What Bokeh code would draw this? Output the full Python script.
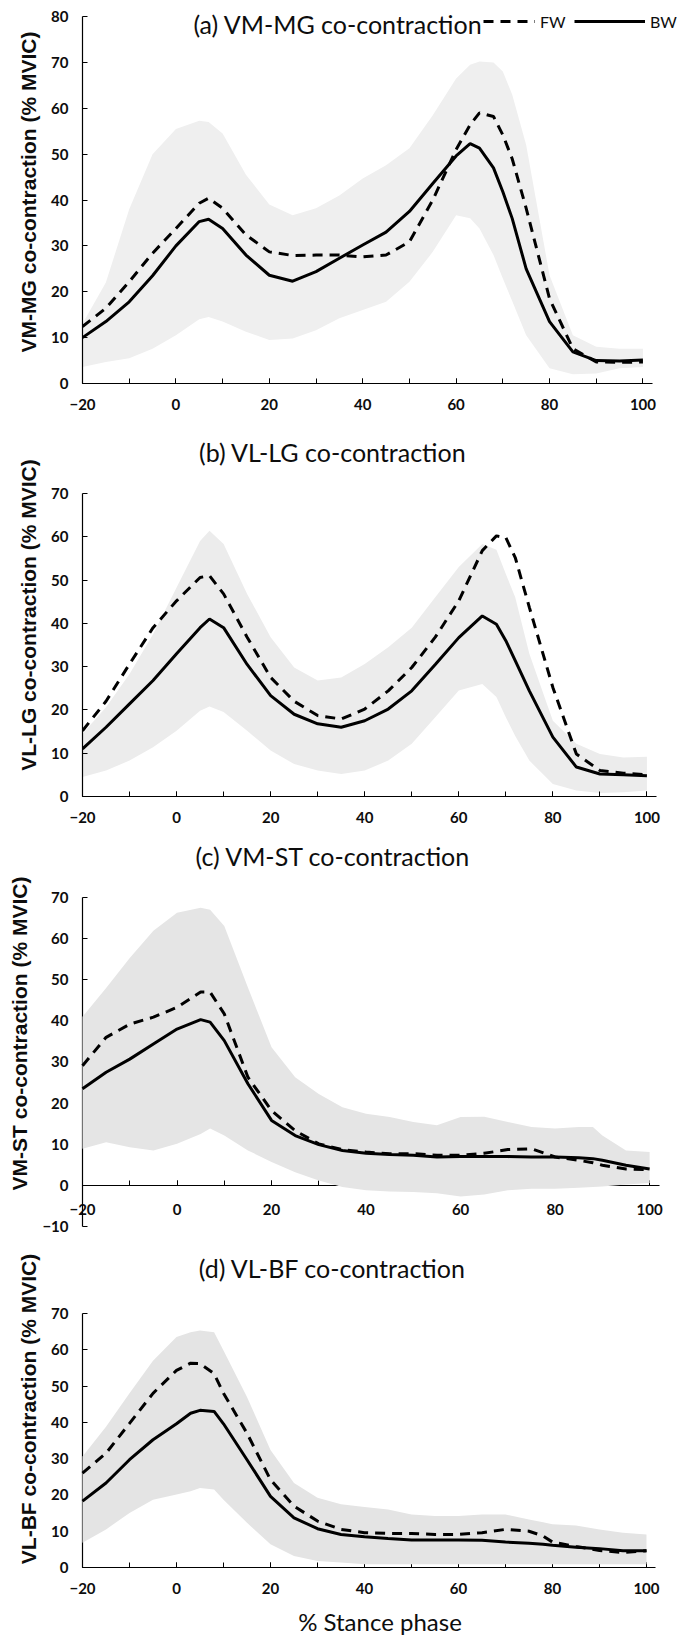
from bokeh.plotting import figure
from bokeh.layouts import column
from bokeh.models import Range1d, SingleIntervalTicker, Legend, LegendItem, Label, LinearAxis
from bokeh.embed import file_html
from bokeh.resources import INLINE

# ---------------- data ----------------
# (a) VM-MG
a_x = [-20, -15, -10, -5, 0, 5, 7, 10, 15, 20, 25, 30, 35, 40, 45, 50, 55, 60, 63, 65, 68, 70, 72, 75, 80, 85, 90, 95, 100]
a_bw = [10, 13.5, 17.8, 23.5, 30, 35.3, 35.8, 33.8, 28, 23.6, 22.3, 24.4, 27.3, 30.2, 33, 37.5, 43.6, 49.6, 52.3, 51.3, 47, 41.8, 36, 25, 13.5, 6.9, 5, 4.9, 5.1]
a_fw = [12.4, 16.4, 22.2, 28.4, 33.8, 39.3, 40.4, 38.2, 32.4, 28.7, 27.9, 28, 28, 27.6, 28, 30.9, 40, 51, 56.4, 59, 58.2, 54.2, 49, 38.2, 18.5, 7.6, 4.7, 4.6, 4.7]
a_up = [13, 22, 38, 50, 55.5, 57.3, 57, 54.5, 45.5, 39, 36.7, 38.2, 41, 44.7, 47.6, 51.3, 58.5, 66.5, 69.5, 70.2, 70, 68, 63, 52, 23.6, 10.5, 8, 7.6, 7.6]
a_lo = [3.6, 4.7, 5.5, 7.6, 10.5, 14, 14.5, 13.5, 11.3, 9.5, 9.8, 11.6, 14.2, 16, 17.8, 22.2, 28.7, 36.7, 36, 33.8, 28, 22.9, 18, 10.5, 3.3, 2, 2.2, 3.3, 3.6]

# (b) VL-LG
b_x = [-20, -15, -10, -5, 0, 5, 7, 10, 15, 20, 25, 30, 35, 40, 45, 50, 55, 60, 65, 68, 70, 72, 75, 80, 85, 90, 95, 100]
b_bw = [11, 16, 21.4, 26.8, 33, 39, 41, 39, 30.5, 23.3, 19, 16.8, 16, 17.5, 20.2, 24.4, 30.5, 36.7, 41.7, 39.8, 36, 31.4, 24.4, 13.7, 6.8, 5.2, 5, 4.8]
b_fw = [15.2, 22, 30.6, 39, 45.2, 50.6, 51, 46.8, 36.8, 27.5, 22, 18.7, 17.9, 20.2, 24.4, 29.8, 36.8, 45.2, 56.8, 60.2, 59.8, 55.2, 43.7, 25.2, 9.8, 6, 5.4, 5]
b_up = [14.5, 20.6, 28.3, 37.5, 48.3, 59, 61.4, 58.3, 46.8, 36.8, 29.8, 26.8, 27.5, 30.6, 34.5, 39, 46, 53, 58.3, 57, 51.4, 46, 33, 17.5, 12.2, 9.8, 9, 9.2]
b_lo = [4.5, 6, 8.3, 11.4, 15.2, 19.8, 20.8, 19.5, 15.2, 10.6, 7.5, 6, 5.2, 6, 8.3, 12.2, 18.3, 24.5, 26, 23, 18.3, 14, 8.3, 2.9, 1.4, 0.8, 1, 1.4]

# (c) VM-ST
c_x = [-20, -15, -10, -5, 0, 5, 7, 10, 15, 20, 25, 30, 35, 40, 45, 50, 55, 60, 65, 70, 75, 80, 85, 88, 90, 95, 100]
c_bw = [23.5, 27.5, 30.7, 34.4, 38, 40.3, 39.7, 35.2, 24.7, 15.8, 12.1, 9.9, 8.5, 7.8, 7.5, 7.3, 6.9, 7, 7, 7, 6.9, 6.9, 6.7, 6.5, 6.1, 4.9, 4]
c_fw = [29.1, 36, 39.2, 40.9, 43.3, 47, 47, 41.7, 26.3, 18.2, 13.3, 10.1, 8.7, 8.1, 7.7, 7.7, 7.3, 7.3, 7.8, 8.7, 8.9, 6.9, 6.1, 5.5, 4.9, 4, 3.8]
c_up = [41, 48, 55.3, 61.9, 66.3, 67.5, 67, 63.1, 48.1, 33.6, 26.3, 22.2, 19, 17.4, 16.6, 15.4, 14.6, 16.6, 16.7, 15.4, 14.2, 13.8, 14.2, 14.2, 12.1, 8.5, 8.1]
c_lo = [8.9, 10.5, 9.3, 8.5, 10.1, 12.5, 13.8, 12.1, 8.5, 5.7, 3.2, 1.2, -0.4, -1.2, -1.5, -1.6, -1.9, -2.7, -2.2, -1.2, -0.8, -0.8, -0.6, -0.4, -0.3, 0.2, 0.6]

# (d) VL-BF
d_x = [-20, -15, -10, -5, 0, 3, 5, 8, 10, 15, 20, 25, 30, 35, 40, 45, 50, 55, 60, 65, 70, 75, 78, 80, 85, 90, 95, 100]
d_bw = [18.3, 23.3, 29.7, 35.2, 39.6, 42.5, 43.3, 43, 39.6, 29.7, 19.6, 13.7, 10.7, 9.1, 8.5, 8, 7.6, 7.6, 7.6, 7.5, 7, 6.7, 6.4, 6.1, 5.6, 5.2, 4.6, 4.6]
d_fw = [26, 31.5, 39.7, 48, 54.3, 56.3, 56.2, 53.4, 48, 37, 24.2, 16.9, 12.8, 10.5, 9.6, 9.4, 9.4, 9.1, 9.1, 9.6, 10.5, 10, 8.7, 7, 5.8, 4.7, 4.1, 4.6]
d_up = [30.6, 38.8, 48, 57, 63.5, 64.8, 65.3, 64.8, 59.8, 47, 32.4, 23.3, 19.2, 17.4, 16.7, 16, 14.6, 14.2, 14.2, 14.6, 14.6, 13.2, 12.5, 11.9, 11.6, 10.5, 9.6, 9.1]
d_lo = [6.8, 10.5, 15, 18.7, 20.1, 21, 21.9, 21.5, 18.7, 12.3, 6.4, 3.2, 1.8, 1.4, 0.9, 0.9, 0.9, 0.9, 0.9, 0.9, 0.9, 0.9, 0.9, 0.9, 0.9, 0.9, 0.9, 0.9]

titles = ["(a) VM-MG co-contraction", "(b) VL-LG co-contraction",
          "(c) VM-ST co-contraction", "(d) VL-BF co-contraction"]
ylabels = ["VM-MG co-contraction (% MVIC)", "VL-LG co-contraction (% MVIC)",
           "VM-ST co-contraction (% MVIC)", "VL-BF co-contraction (% MVIC)"]
xlabel = "% Stance phase"
series_names = ["FW", "BW"]
x_axis_span = (-20, 102)
x_ticks_every = 20
y_ticks_every = 10

TITLE_FONT = "Lato"
TICK_FONT = "Lato"
INK = "#0d0d0d"
W = 677


def style_axis(ax):
    ax.axis_line_color = "black"
    ax.axis_line_width = 1.2
    ax.major_tick_in = 5
    ax.major_tick_out = 0
    ax.minor_tick_in = 5
    ax.minor_tick_out = 0
    ax.major_tick_line_color = "black"
    ax.minor_tick_line_color = "black"
    ax.major_label_text_font = TICK_FONT
    ax.major_label_text_font_style = "bold"
    ax.major_label_text_font_size = "15px"
    ax.major_label_text_color = INK


def panel(x, fw, bw, up, lo, x_end, y_lo, y_hi, y_top, height, bl, bt, bb, band, ylabel, on_top=False):
    p = figure(width=W, height=height, x_range=Range1d(-20, x_end), y_range=Range1d(y_lo, y_top),
               output_backend="svg", toolbar_location=None,
               min_border_left=bl, min_border_right=0,
               min_border_top=bt, min_border_bottom=bb)
    p.grid.visible = False
    p.outline_line_color = None
    p.background_fill_color = "white"
    lvl = "annotation" if on_top else "glyph"
    p.varea(x=x, y1=lo, y2=up, fill_color=band, level=lvl)
    r_bw = p.line(x, bw, line_color="black", line_width=3, level=lvl)
    r_fw = p.line(x, fw, line_color="black", line_width=3, line_dash="10 7", level=lvl)
    xa = p.xaxis[0]
    ya = p.yaxis[0]
    xa.ticker = SingleIntervalTicker(interval=x_ticks_every, num_minor_ticks=2)
    ya.ticker = SingleIntervalTicker(interval=y_ticks_every, num_minor_ticks=0)
    xa.bounds = x_axis_span
    ya.bounds = (y_lo, y_hi)
    style_axis(xa)
    style_axis(ya)
    xa.major_label_standoff = 15
    ya.major_label_standoff = 14
    ya.axis_label = ylabel
    ya.axis_label_text_font = "Liberation Sans"
    ya.axis_label_text_font_style = "bold"
    ya.axis_label_text_font_size = "21px"
    ya.axis_label_text_color = INK
    ya.axis_label_standoff = 8
    return p, r_fw, r_bw


def add_title(p, text, x, y):
    p.add_layout(Label(x=x, y=y, text=text, text_align="center", text_baseline="middle",
                       text_font=TITLE_FONT, text_font_size="25px", text_color=INK))


def legend_for(label, renderer, x, glyph_w):
    return Legend(items=[LegendItem(label=label, renderers=[renderer])],
                  location=(x, 352), orientation="horizontal", glyph_width=glyph_w, glyph_height=20,
                  label_standoff=5, spacing=0, padding=0, margin=0,
                  border_line_color=None, background_fill_alpha=0,
                  label_text_font=TITLE_FONT, label_text_font_size="16px", label_text_color=INK)


# (a)  frame: x -20 at px 74 (4.733 px/unit), y 0..80 over 367 px (frame reaches page top)
pa, ra_fw, ra_bw = panel(a_x, a_fw, a_bw, a_up, a_lo, 107.4, 0, 80, 83.5, 428, 74, 0, 45, "#efefef", ylabels[0])
add_title(pa, titles[0], 34.7, 78.4)
pa.add_layout(legend_for(series_names[0], ra_fw, 401, 52))
pa.add_layout(legend_for(series_names[1], ra_bw, 492, 71))

# (b)
pb, _, _ = panel(b_x, b_fw, b_bw, b_up, b_lo, 106.5, 0, 70, 83.85, 407, 75, 5, 39, "#ececec", ylabels[1])
add_title(pb, titles[1], 33.2, 79.6)

# (c)  x axis crosses at y = 0; its numbers are set by a second (label-only) axis
pc, _, _ = panel(c_x, c_fw, c_bw, c_up, c_lo, 105.9, -10, 70, 83.86, 410, 79, 5, 19, "#e5e5e5", ylabels[2], on_top=True)
add_title(pc, titles[2], 33.05, 80.2)
xc = pc.xaxis[0]
xc.axis_line_color = None
xc.major_tick_line_color = None
xc.minor_tick_line_color = None
xc.major_label_standoff = -23
x0 = LinearAxis(fixed_location=0, bounds=x_axis_span,
                ticker=SingleIntervalTicker(interval=x_ticks_every, num_minor_ticks=2),
                major_label_overrides={v: "" for v in range(-20, 101, x_ticks_every)})
style_axis(x0)
x0.major_label_standoff = 0
pc.add_layout(x0, "below")

# (d)
pd_, _, _ = panel(d_x, d_fw, d_bw, d_up, d_lo, 106.6, 0, 70, 87.35, 394, 82, 5, 72, "#e4e4e4", ylabels[3], on_top=True)
add_title(pd_, titles[3], 33.2, 82.5)
xd = pd_.xaxis[0]
xd.axis_label = xlabel
xd.axis_label_text_font = TITLE_FONT
xd.axis_label_text_font_style = "normal"
xd.axis_label_text_font_size = "24px"
xd.axis_label_text_color = INK
xd.axis_label_standoff = 10

layout = column(pa, pb, pc, pd_, spacing=0)
open("out.html", "w").write(file_html(layout, INLINE))
